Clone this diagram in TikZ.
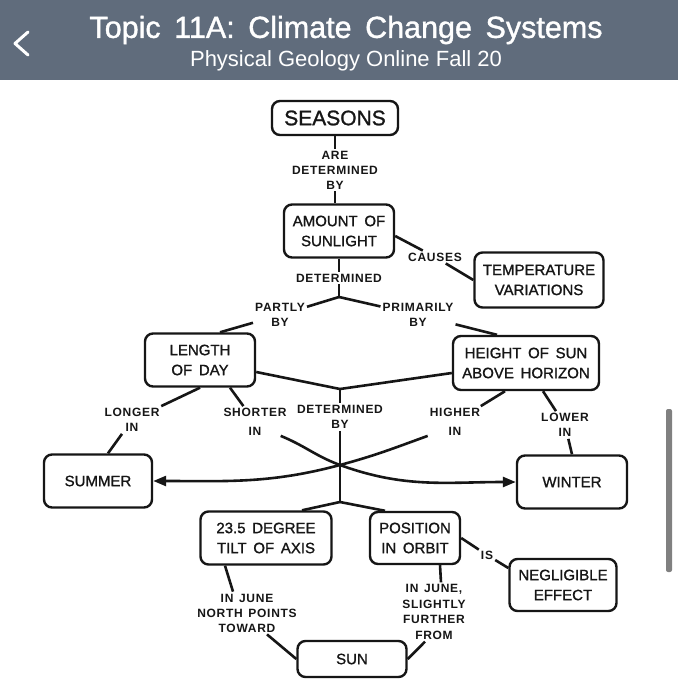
\documentclass[tikz,border=0pt]{standalone}
\usepackage{fontspec}
\setmainfont{Liberation Sans}
\newfontfamily\headfont[FakeBold=1.2]{Liberation Sans}
\newfontfamily\boxfont[FakeBold=1.2, WordSpace=1.6]{Liberation Sans}
\newfontfamily\wordfont[LetterSpace=6, WordSpace=1.4]{Liberation Sans}
\usetikzlibrary{arrows.meta}
\definecolor{HeaderSlate}{RGB}{96,108,124}
\definecolor{HeaderWhite}{RGB}{255,255,255}
\definecolor{InkBlack}{RGB}{22,22,22}
\definecolor{ScrollGrey}{RGB}{128,128,128}

\begin{document}
\begin{tikzpicture}[x=1pt,y=-1pt,
	concept/.style={draw=InkBlack, line width=2.4pt, rounded corners=8pt, align=center,
		inner sep=2pt, text=InkBlack, font=\boxfont\fontsize{15}{20}\selectfont},
	linkword/.style={align=center, inner sep=2pt, text=InkBlack, font=\wordfont\bfseries\fontsize{12}{15}\selectfont},
	link/.style={draw=InkBlack, line width=2.6pt},
	arrowlink/.style={link, -{Triangle[length=13pt,width=10pt]}}]
		\useasboundingbox (0, 0) rectangle (678, 700);
		\fill[white] (0, 0) rectangle (678, 700);
		\fill[HeaderSlate] (0, 0) rectangle (678, 80);
		\draw[line width=3pt, draw=HeaderWhite, line cap=round, line join=round]
		(28, 32) -- (15, 43.5) -- (28, 55);
		\tikzset{text=HeaderWhite}
		\node (title) at (346, 30) {\headfont\fontsize{30.5}{31}\selectfont Topic 11A: Climate Change Systems};
		\node (subtitle) at (346, 61) {\fontsize{22}{22}\selectfont Physical Geology Online Fall 20};
		\fill[ScrollGrey, rounded corners=2pt] (666, 409) rectangle (672, 572);

		\node[concept, minimum width=126pt, minimum height=34pt, font=\boxfont\fontsize{21}{21}\selectfont] (seasons) at (335, 118) {SEASONS};
		\node[concept, minimum width=110pt, minimum height=53pt] (amount) at (339, 231) {AMOUNT OF\\SUNLIGHT};
		\node[concept, minimum width=129pt, minimum height=55pt] (temp) at (539, 280) {TEMPERATURE\\VARIATIONS};
		\node[concept, minimum width=110pt, minimum height=53pt] (length) at (200, 360) {LENGTH\\OF DAY};
		\node[concept, minimum width=146pt, minimum height=54pt] (height) at (526, 363) {HEIGHT OF SUN\\ABOVE HORIZON};
		\node[concept, minimum width=108pt, minimum height=53pt] (summer) at (98, 481) {SUMMER};
		\node[concept, minimum width=110pt, minimum height=53pt] (winter) at (572, 482) {WINTER};
		\node[concept, minimum width=131pt, minimum height=53pt] (tilt) at (266, 538) {23.5 DEGREE\\TILT OF AXIS};
		\node[concept, minimum width=90pt, minimum height=52pt] (position) at (415, 538) {POSITION\\IN ORBIT};
		\node[concept, minimum width=107pt, minimum height=52pt] (negligible) at (563, 585) {NEGLIGIBLE\\EFFECT};
		\node[concept, minimum width=109pt, minimum height=36pt] (sun) at (352, 659) {SUN};

		\node[linkword] (areby) at (335, 170) {ARE\\DETERMINED\\BY};
		\node[linkword] (causes) at (435, 257) {CAUSES};
		\node[linkword] (detone) at (339, 278) {DETERMINED};
		\node[linkword] (partly) at (280, 315) {PARTLY\\BY};
		\node[linkword] (primarily) at (418, 315) {PRIMARILY\\BY};
		\node[linkword] (longer) at (132, 420) {LONGER\\IN};
		\node[linkword, font=\wordfont\bfseries\fontsize{12}{19}\selectfont] (shorter) at (255, 422) {SHORTER\\IN};
		\node[linkword] (detby) at (340, 417) {DETERMINED\\BY};
		\node[linkword, font=\wordfont\bfseries\fontsize{12}{19}\selectfont] (higher) at (455, 422) {HIGHER\\IN};
		\node[linkword] (lower) at (565, 425) {LOWER\\IN};
		\node[linkword] (injune) at (247, 613) {IN JUNE\\NORTH POINTS\\TOWARD};
		\node[linkword, font=\wordfont\bfseries\fontsize{12}{15.5}\selectfont] (further) at (434, 612) {IN JUNE,\\SLIGHTLY\\FURTHER\\FROM};
		\node[linkword] (is) at (487, 555) {IS};

		\coordinate (branch) at (339, 297);
		\coordinate (meet) at (340, 389);
		\coordinate (split) at (340, 502);
		\coordinate (cross) at (340, 465);

		\draw[link] (seasons.south) -- (areby.north);
		\draw[link] (areby.south) -- (areby.south |- amount.north);
		\draw[link] ([yshift=-5pt]amount.east) -- (causes);
		\draw[link] (causes) -- (temp.west);
		\draw[link] (amount.south) -- (detone.north);
		\draw[link] (detone.south) -- (branch);
		\draw[link] (branch) -- (partly);
		\draw[link] (branch) -- (primarily);
		\draw[link] (partly) -- ([xshift=20pt]length.north);
		\draw[link] (primarily) -- ([xshift=-29pt]height.north);
		\draw[link] ([yshift=-12pt]length.east) -- (meet);
		\draw[link] ([yshift=-10pt]height.west) -- (meet);
		\draw[link] (meet) -- (detby.north);
		\draw[link] (detby.south) -- (split);
		\draw[link] (split) -- ([xshift=36pt]tilt.north);
		\draw[link] (split) -- ([xshift=-30pt]position.north);
		\draw[link] (length.south) -- (longer);
		\draw[link] (longer) -- ([xshift=10pt]summer.north);
		\draw[link] ([xshift=30pt]length.south) -- (shorter);
		\draw[arrowlink] ([xshift=-8pt,yshift=2pt]shorter.south east) to[out=-22, in=160] (cross) to[out=-20, in=180] (winter.west);
		\draw[link] ([xshift=-21pt]height.south) -- (higher);
		\draw[arrowlink] ([xshift=0pt,yshift=2pt]higher.south west) to[out=200, in=15] (cross) to[out=195, in=0] (summer.east);
		\draw[link] ([xshift=17pt]height.south) -- (lower);
		\draw[link] (lower) -- (winter.north);
		\draw[link] ([xshift=-41pt]tilt.south) -- ([xshift=-14pt]injune.north);
		\draw[link] ([xshift=20pt]injune.south) -- (sun.west);
		\draw[link] ([xshift=25pt]position.south) -- ([xshift=7pt]further.north);
		\draw[link] ([xshift=-9pt]further.south) -- (sun.east);
		\draw[link] (position.east) -- (is);
		\draw[link] (is) -- ([yshift=17pt]negligible.west);
	\end{tikzpicture}
\end{document}
